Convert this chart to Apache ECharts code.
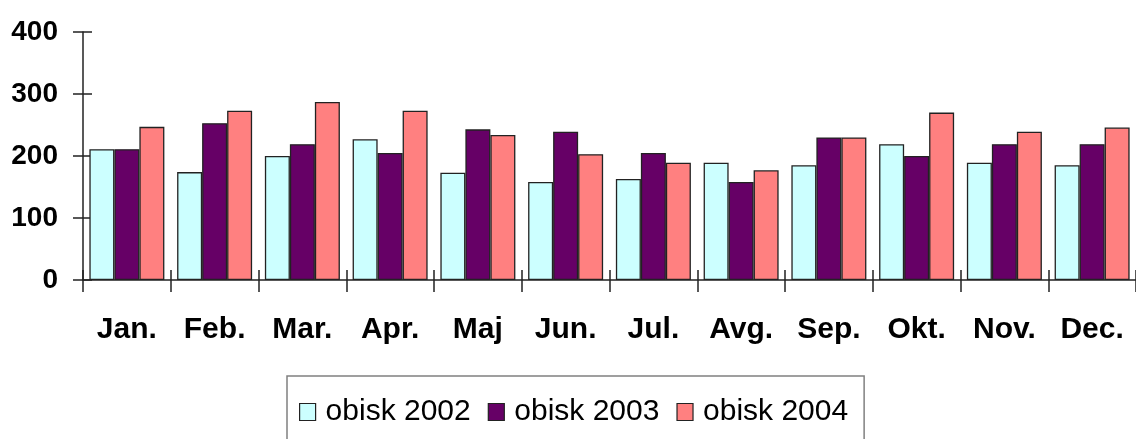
<!DOCTYPE html>
<html>
<head>
<meta charset="utf-8">
<script src="https://cdn.jsdelivr.net/npm/echarts@6/dist/echarts.min.js"></script>
<style>
html,body{margin:0;padding:0;background:#fff;}
#c{width:1136px;height:439px;}
</style>
</head>
<body>
<div id="c"></div>
<script>
const categories = ['Jan.', 'Feb.', 'Mar.', 'Apr.', 'Maj', 'Jun.', 'Jul.', 'Avg.', 'Sep.', 'Okt.', 'Nov.', 'Dec.'];
const seriesNames = ['obisk 2002', 'obisk 2003', 'obisk 2004'];
const obisk2002 = [211, 174, 200, 227, 173, 158, 163, 189, 185, 219, 189, 185];
const obisk2003 = [211, 253, 219, 205, 243, 239, 205, 158, 230, 200, 219, 219];
const obisk2004 = [247, 273, 287, 273, 234, 203, 189, 177, 230, 270, 239, 246];
const yTicks = [0, 100, 200, 300, 400];

const colors = ['#CCFFFF', '#660066', '#FF8080'];
const font = '"Liberation Sans", Arial, sans-serif';
const axisColor = '#222222';

const chart = echarts.init(document.getElementById('c'));
const values = [obisk2002, obisk2003, obisk2004];

chart.setOption({
  animation: false,
  backgroundColor: '#ffffff',
  grid: { left: 83, right: 0, top: 32, bottom: 159, containLabel: false },
  legend: {
    left: 287, top: 376,
    orient: 'horizontal',
    padding: [21, 16, 40, 12],
    itemGap: 17,
    itemWidth: 16, itemHeight: 17,
    borderColor: '#808080', borderWidth: 1.5,
    icon: 'rect',
    textStyle: { fontFamily: font, fontSize: 30, color: '#000', padding: [0, 0, 0, 5] },
    data: seriesNames.map((n, i) => ({ name: n, itemStyle: { color: colors[i], borderColor: '#222', borderWidth: 1.2 } }))
  },
  xAxis: [
    {
      type: 'category', data: categories, position: 'bottom',
      axisLine: { show: true, onZero: false, lineStyle: { color: axisColor, width: 1.5 } },
      axisTick: { show: true, inside: false, length: 12, lineStyle: { color: axisColor, width: 1.5 } },
      axisLabel: { fontFamily: font, fontSize: 30, fontWeight: 'bold', color: '#000', margin: 35, interval: 0 },
      splitLine: { show: false }
    },
    {
      type: 'category', data: categories, position: 'bottom',
      axisLine: { show: false },
      axisTick: { show: true, inside: true, length: 10, lineStyle: { color: axisColor, width: 1.5 } },
      axisLabel: { show: false },
      splitLine: { show: false }
    }
  ],
  yAxis: [
    {
      type: 'value', min: yTicks[0], max: yTicks[yTicks.length - 1], interval: 100,
      axisLine: { show: true, lineStyle: { color: axisColor, width: 1.5 } },
      axisTick: { show: true, inside: false, length: 10, lineStyle: { color: axisColor, width: 1.5 } },
      axisLabel: { fontFamily: font, fontSize: 28, fontWeight: 'bold', color: '#000', margin: 25 },
      splitLine: { show: false }
    },
    {
      type: 'value', min: yTicks[0], max: yTicks[yTicks.length - 1], interval: 100, position: 'left',
      axisLine: { show: false },
      axisTick: { show: true, inside: true, length: 9, lineStyle: { color: axisColor, width: 1.5 } },
      axisLabel: { show: false },
      splitLine: { show: false }
    }
  ],
  series: values.map((v, i) => ({
    name: seriesNames[i],
    type: 'bar',
    xAxisIndex: 0, yAxisIndex: 0,
    data: v,
    barWidth: 25,
    barGap: '0%',
    itemStyle: { color: colors[i], borderColor: '#222', borderWidth: 1.3 }
  }))
});
</script>
</body>
</html>
